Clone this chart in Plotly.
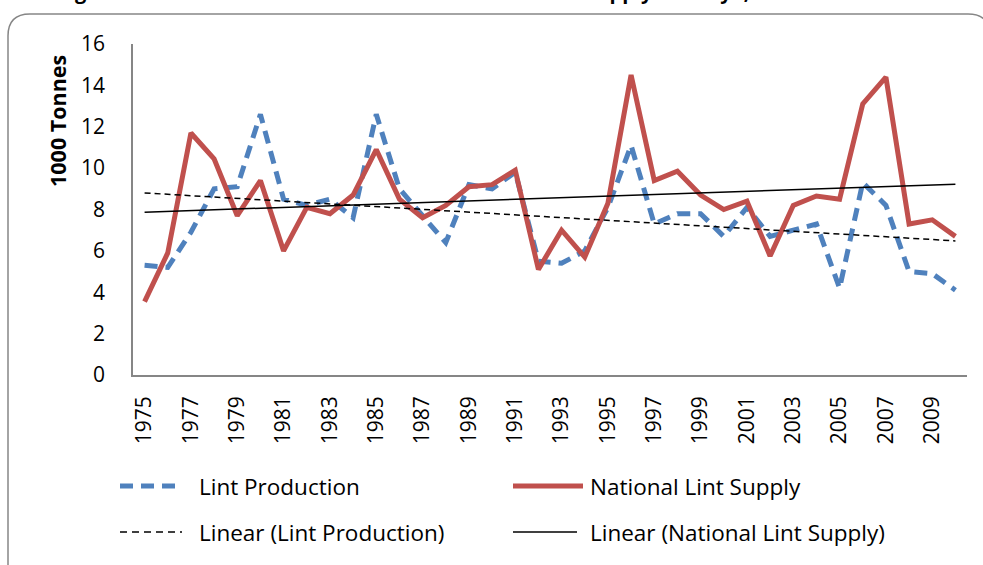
import numpy as np
import plotly.graph_objects as go

years = list(range(1975, 2011))
lint_production = [5.3, 5.2, 6.9, 9.0, 9.1, 12.6, 8.5, 8.2, 8.5, 7.6, 12.6, 9.0,
                   7.7, 6.4, 9.2, 9.0, 9.8, 5.5, 5.4, 6.0, 8.1, 11.1, 7.3, 7.8,
                   7.8, 6.7, 8.1, 6.7, 7.0, 7.3, 4.2, 9.3, 8.2, 5.0, 4.9, 4.1]
national_supply = [3.55, 5.9, 11.7, 10.45, 7.7, 9.4, 6.0, 8.1, 7.8, 8.7, 10.9, 8.5,
                   7.6, 8.2, 9.1, 9.2, 9.9, 5.1, 7.0, 5.7, 8.3, 14.5, 9.4, 9.85,
                   8.7, 8.0, 8.4, 5.75, 8.2, 8.65, 8.5, 13.1, 14.4, 7.3, 7.5, 6.7]
tick_years = list(range(1975, 2010, 2))
y_ticks = list(range(0, 17, 2))

legend_names = ["Lint Production", "National Lint Supply",
                "Linear (Lint Production)", "Linear (National Lint Supply)"]
title_text = "Figure 2: Trends in Lint Production and National Lint Supply in Kenya, 1975-2010"
y_title = "1000 Tonnes"

FONT = "Open Sans"
BLUE = "#4F81BD"
RED = "#C0504D"

# linear trends (Excel style least squares on index)
idx = np.arange(len(years))
pc = np.polyfit(idx, lint_production, 1)
sc = np.polyfit(idx, national_supply, 1)
trend_prod = np.polyval(pc, idx)
trend_supply = np.polyval(sc, idx)

W, H = 983, 565
L, R, T, B = 133, 967, 44, 375


def px(x):
    return (x - L) / (R - L)


def py(y):
    return (B - y) / (B - T)


fig = go.Figure()
fig.add_trace(go.Scatter(x=years, y=lint_production, mode="lines",
                         line=dict(color=BLUE, width=5, dash="13px,8px"),
                         name=legend_names[0], showlegend=False))
fig.add_trace(go.Scatter(x=years, y=national_supply, mode="lines",
                         line=dict(color=RED, width=5),
                         name=legend_names[1], showlegend=False))
fig.add_trace(go.Scatter(x=years, y=trend_prod, mode="lines",
                         line=dict(color="black", width=1.5, dash="6px,4px"),
                         name=legend_names[2], showlegend=False))
fig.add_trace(go.Scatter(x=years, y=trend_supply, mode="lines",
                         line=dict(color="black", width=1.5),
                         name=legend_names[3], showlegend=False))

shapes = []
# rounded chart border
bl, bt, br, bb, r = 8, 14, 990, 590, 22
path = (f"M {px(bl)},{py(bb)} L {px(bl)},{py(bt + r)} "
        f"Q {px(bl)},{py(bt)} {px(bl + r)},{py(bt)} "
        f"L {px(br - r)},{py(bt)} Q {px(br)},{py(bt)} {px(br)},{py(bt + r)} "
        f"L {px(br)},{py(bb)}")
shapes.append(dict(type="path", xref="paper", yref="paper", path=path,
                   line=dict(color="#868686", width=1.5)))

# manual legend
legend_items = [
    (120, 182, 486, dict(color=BLUE, width=5, dash="13px,8px"), 199, legend_names[0]),
    (513, 583, 486, dict(color=RED, width=5), 590, legend_names[1]),
    (120, 182, 532, dict(color="black", width=1.5, dash="7px,5px"), 199, legend_names[2]),
    (513, 577, 532, dict(color="black", width=1.5), 590, legend_names[3]),
]
annotations = []
for x0, x1, yy, ln, tx, name in legend_items:
    shapes.append(dict(type="line", xref="paper", yref="paper",
                       x0=px(x0), x1=px(x1), y0=py(yy), y1=py(yy), line=ln))
    annotations.append(dict(text=name, xref="paper", yref="paper",
                            x=px(tx - 2), y=py(yy), xanchor="left", yanchor="middle",
                            showarrow=False, font=dict(family=FONT, size=22.5, color="black")))

annotations.append(dict(text=f"<b>{y_title}</b>", xref="paper", yref="paper",
                        x=px(58), y=py(121), textangle=-90, xanchor="center",
                        yanchor="middle", showarrow=False,
                        font=dict(family=FONT, size=21.5, color="black")))
annotations.append(dict(text=f"<b>{title_text}</b>", xref="paper", yref="paper",
                        x=px(56), y=py(-8), xanchor="left", yanchor="middle",
                        showarrow=False,
                        font=dict(family=FONT, size=20, color="black")))

fig.update_layout(
    width=W, height=H,
    margin=dict(l=L, r=W - R, t=T, b=H - B),
    paper_bgcolor="white", plot_bgcolor="white",
    showlegend=False,
    shapes=shapes, annotations=annotations,
    font=dict(family=FONT, size=21, color="black"),
    xaxis=dict(range=[1974.5, 2010.5], tickmode="array", tickvals=tick_years,
               ticktext=[str(y) for y in tick_years], tickangle=-90,
               showgrid=False, zeroline=False, showline=True,
               linecolor="#868686", linewidth=1.5, ticks="",
               ticklabelstandoff=11,
               tickfont=dict(family=FONT, size=21, color="black")),
    yaxis=dict(range=[0, 16], tickmode="array", tickvals=y_ticks,
               showgrid=False, zeroline=False, showline=True,
               linecolor="#868686", linewidth=1.5, ticks="",
               ticklabelstandoff=22,
               tickfont=dict(family=FONT, size=21, color="black")),
)

fig.write_html("out.html", config={"displayModeBar": False},
               post_script="document.body.style.margin='0';document.body.style.overflow='hidden';")
